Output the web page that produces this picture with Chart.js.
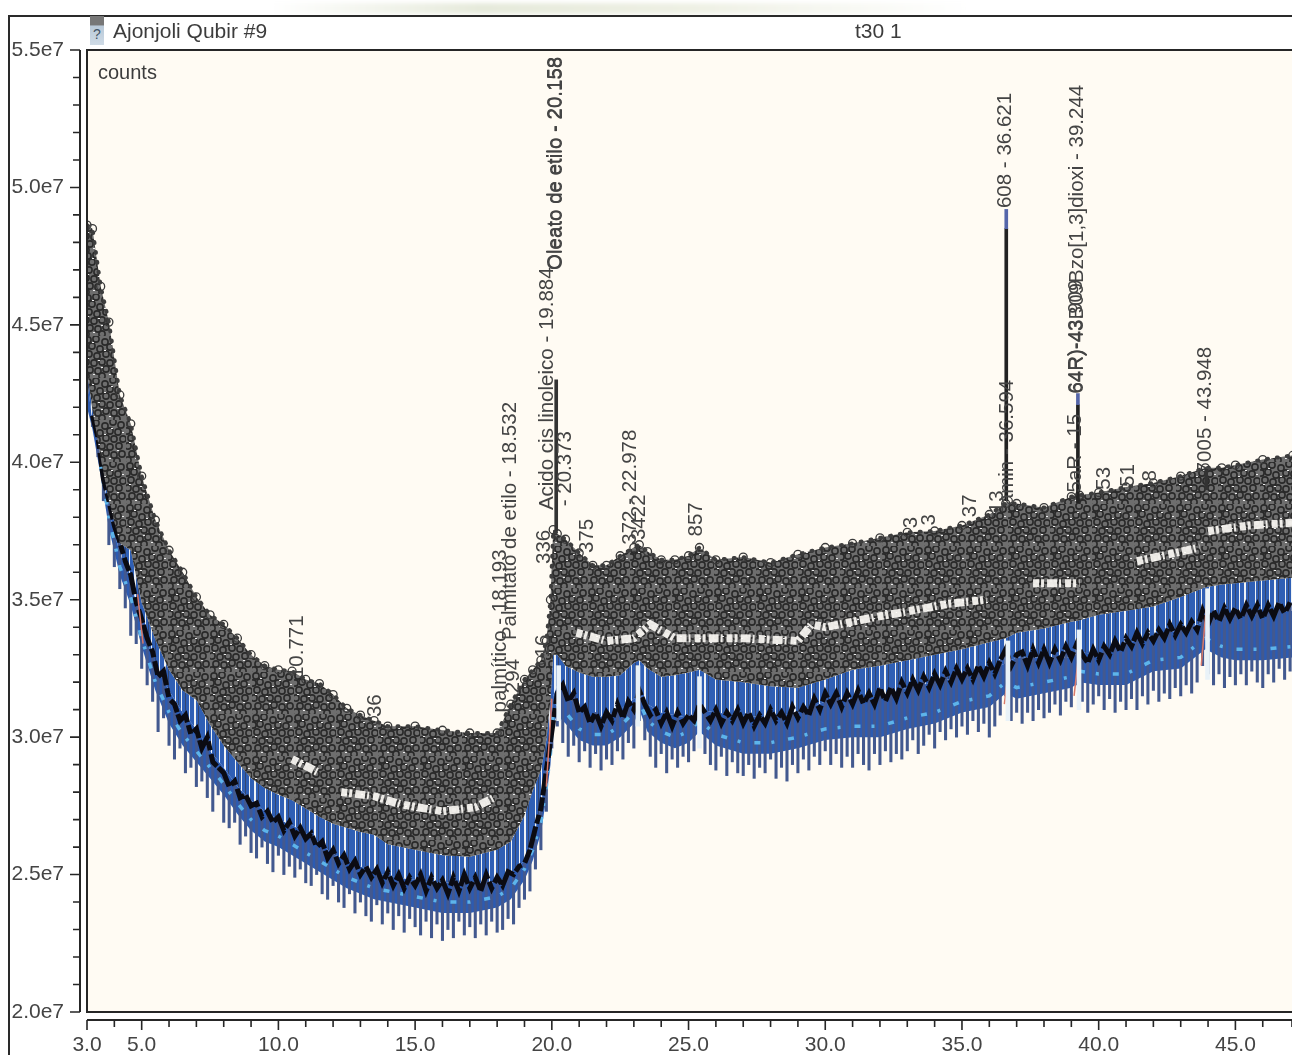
<!DOCTYPE html>
<html>
<head>
<meta charset="utf-8">
<title>Ajonjoli Qubir #9</title>
<script src="https://cdn.jsdelivr.net/npm/chart.js@4/dist/chart.umd.min.js"></script>
<style>
    body { margin: 0; background: #fff; font-family: "Liberation Sans", sans-serif; color: #3c3c3c; }
    #page { position: relative; width: 1292px; height: 1055px; overflow: hidden; }
    #haze { position: absolute; left: 270px; top: 3px; width: 700px; height: 11px;
            background: linear-gradient(90deg, #fff, #e6eadb 30%, #eef0e4 60%, #fff); filter: blur(2px); }
    #frame { position: absolute; left: 8px; top: 15px; width: 1320px; height: 1080px; border: 2px solid #2a2a2a; }
    #chart { position: absolute; left: 0; top: 0; filter: blur(0.6px); }
    .txt { position: absolute; font-size: 21px; white-space: nowrap; filter: blur(0.4px); }
    #icon { position: absolute; left: 90px; top: 16px; width: 14px; height: 29px; font-size: 14px; line-height: 36px;
            text-align: center; color: #456; background: linear-gradient(#777 30%, #b9c9d8 35%, #cfdbe6); }
</style>
</head>
<body>
<div id="page">
    <div id="haze"></div>
    <div id="frame"></div>
    <canvas id="chart" width="1292" height="1055"></canvas>
    <div id="icon">?</div>
    <div class="txt" style="left:113px;top:19px">Ajonjoli Qubir #9</div>
    <div class="txt" style="left:855px;top:19px">t30 1</div>
    <div class="txt" style="left:98px;top:61px;font-size:20px">counts</div>
</div>
<script>
// all y values are in millions of counts
const xLabelled = [3, 5, 10, 15, 20, 25, 30, 35, 40, 45];

const bandRt = [
    3.0,3.2,3.5,3.8,4.2,4.6,5.0,5.5,6,6.5,
    7,7.5,8,8.5,9,9.5,10,10.5,11,11.5,
    12,12.5,13,13.5,14,15,16,17,18,18.5,
    19,19.3,19.6,19.8,19.95,20.05,20.2,20.5,21,21.5,
    22,22.5,23,23.2,23.5,24,24.5,25,25.4,26,
    27,28,29,30,31,32,33,34,35,36,
    36.6,37,38,39,39.3,40,41,42,43,43.9,
    44.5,45,46,47.1];

// top of the grey pile of peak labels
const massTop = [
    48.63,48.5,46.4,45.1,42.45,41.4,39.5,37.9,36.8,36.0,
    35.1,34.45,34.1,33.6,33.0,32.6,32.45,32.4,32.1,31.95,
    31.55,31.05,30.8,30.6,30.4,30.4,30.25,30.15,30.15,31.2,
    32.1,32.45,32.8,33.5,35,37.55,37.4,37.2,36.7,36.25,
    36.25,36.6,36.9,37,36.75,36.45,36.45,36.6,36.9,36.45,
    36.55,36.35,36.65,36.9,37.05,37.25,37.45,37.5,37.7,38.1,
    38.5,38.5,38.35,38.75,38.8,38.9,39.1,39.25,39.5,39.8,
    39.8,39.9,40.1,40.25];

const massBottom = [
    43.35,41.9,40.15,38.6,37.05,36.8,34.9,33.55,32.45,31.7,
    31.35,30.45,29.7,29.1,28.5,28.15,27.9,27.7,27.4,27.1,
    26.85,26.7,26.55,26.45,26.1,25.9,25.7,25.65,25.9,26.2,
    27.15,28.05,28.8,29.9,31.35,33,33,32.6,32.35,32.2,
    32.2,32.25,32.7,32.8,32.5,32.2,32.25,32.35,32.45,32.1,
    32,31.85,31.8,32.1,32.45,32.6,32.8,33,33.2,33.45,
    33.6,33.8,33.95,34.2,34.25,34.45,34.6,34.75,35.1,35.45,
    35.55,35.6,35.7,35.8];

const blueMid = [
    43,41.5,40,38.2,36.7,35.7,34.1,32.6,31.7,30.9,
    30.3,29.5,28.9,28.2,27.7,27.3,27.0,26.8,26.5,26.15,
    25.75,25.5,25.3,25.1,24.95,24.8,24.7,24.7,24.7,25,
    25.5,26.2,27.5,28.6,29.6,31.5,31.9,31.6,31,30.7,
    30.8,31,31.4,31.6,31.2,30.9,30.8,30.7,31,30.9,
    30.8,30.7,30.9,31.3,31.4,31.5,31.8,32,32.2,32.4,
    32.7,32.9,32.9,32.9,33.1,33,33.4,33.7,33.9,34.2,
    34.4,34.4,34.5,34.6];

const blueFloor = [
    42,41.2,39.5,37.6,35.9,34.8,33.3,31.7,30.5,29.7,
    29.1,28.5,27.9,27.2,26.6,26.2,26,25.7,25.4,25.1,
    24.8,24.5,24.3,24.1,24,23.8,23.6,23.6,23.8,24.1,
    24.8,25.5,26.5,27.8,29,30.5,30.8,30.5,29.9,29.7,
    29.7,30,30.5,31,30.2,29.8,29.6,29.8,30.2,29.7,
    29.4,29.4,29.6,29.9,30,30,30.3,30.5,30.9,31.1,
    31.6,31.4,31.6,31.8,32,31.9,31.9,32.4,32.5,33.2,
    32.9,32.8,32.8,32.9];

const cyanTrace = [
    null,null,39.9,38,36.2,35.1,33.6,32.0,30.9,30.1,
    29.5,28.9,28.3,27.6,27,26.6,26.4,26.1,25.8,25.5,
    25.2,24.9,24.7,24.5,24.4,24.2,24,24,24.2,24.5,
    25.2,25.9,26.9,28.2,29.4,30.9,31.2,30.9,30.3,30.1,
    30.1,30.4,30.9,31.3,30.6,30.2,30,30.2,30.6,30.1,
    29.8,29.8,30,30.3,30.4,30.4,30.7,30.9,31.3,31.5,
    32,31.8,32,32.2,32.4,32.3,32.3,32.8,32.9,33.6,
    33.3,33.2,33.2,33.3];

const spikeRt = [
    3.2,3.4,3.6,3.8,4.0,4.2,4.4,4.6,4.8,5.0,
    5.2,5.4,5.6,5.8,6.0,6.2,6.4,6.6,6.8,7.0,
    7.2,7.4,7.6,7.8,8.0,8.2,8.4,8.6,8.8,9.0,
    9.2,9.4,9.6,9.8,10.0,10.2,10.4,10.6,10.8,11.0,
    11.2,11.4,11.6,11.8,12.0,12.2,12.4,12.6,12.8,13.0,
    13.2,13.4,13.6,13.8,14.0,14.2,14.4,14.6,14.8,15.0,
    15.2,15.4,15.6,15.8,16.0,16.2,16.4,16.6,16.8,17.0,
    17.2,17.4,17.6,17.8,18.0,18.2,18.4,18.6,18.8,19.0,
    19.2,19.4,19.6,19.8,20.0,20.2,20.4,20.6,20.8,21.0,
    21.2,21.4,21.6,21.8,22.0,22.2,22.4,22.6,22.8,23.0,
    23.2,23.4,23.6,23.8,24.0,24.2,24.4,24.6,24.8,25.0,
    25.2,25.4,25.6,25.8,26.0,26.2,26.4,26.6,26.8,27.0,
    27.2,27.4,27.6,27.8,28.0,28.2,28.4,28.6,28.8,29.0,
    29.2,29.4,29.6,29.8,30.0,30.2,30.4,30.6,30.8,31.0,
    31.2,31.4,31.6,31.8,32.0,32.2,32.4,32.6,32.8,33.0,
    33.2,33.4,33.6,33.8,34.0,34.2,34.4,34.6,34.8,35.0,
    35.2,35.4,35.6,35.8,36.0,36.2,36.4,36.6,36.8,37.0,
    37.2,37.4,37.6,37.8,38.0,38.2,38.4,38.6,38.8,39.0,
    39.2,39.4,39.6,39.8,40.0,40.2,40.4,40.6,40.8,41.0,
    41.2,41.4,41.6,41.8,42.0,42.2,42.4,42.6,42.8,43.0,
    43.2,43.4,43.6,43.8,44.0,44.2,44.4,44.6,44.8,45.0,
    45.2,45.4,45.6,45.8,46.0,46.2,46.4,46.6,46.8,47.0];

const spikeTip = [
    41.3,40.2,38.6,37.0,36.2,35.4,34.7,33.7,33.4,32.5,
    31.9,31.3,30.2,30.7,29.7,29.2,29.6,28.7,28.9,28.2,
    28.4,27.8,27.3,27.9,26.9,26.7,26.9,26.1,26.4,25.8,
    25.6,26,25.4,25.1,25.7,25,25.3,24.9,25.2,24.7,
    24.6,25,24.3,24.1,24.6,24,23.8,24.3,23.6,24,
    23.5,23.3,23.9,23.2,23.6,23,23.5,22.9,23.4,23.1,
    22.8,23.3,22.7,23.2,22.6,23,22.7,23.3,22.8,23.1,
    22.7,23.2,22.8,23.3,22.9,23,23.4,23.2,23.8,24.1,
    24.4,25.2,25.9,27.3,29.6,30.4,29.8,29.3,29.7,29.1,
    29.5,28.9,29.4,28.8,29.2,29,29.5,29.2,29.8,29.6,
    30.6,29.9,29.3,28.9,29.4,28.7,29.2,28.9,29.3,29.1,
    29.5,30.3,29.4,29,28.8,29.3,28.6,29.1,28.7,28.6,
    29,28.5,28.9,28.7,29.2,28.5,28.9,28.4,29,28.7,
    29.2,28.8,29.3,29,29.5,29,29.4,28.9,29.3,28.9,
    29.4,29,28.8,29.4,29,29.5,29.1,29.4,29.2,29.5,
    29.9,29.4,29.7,30.1,29.6,30.2,29.9,30.3,30,30.4,
    30.1,30.6,30.2,30.5,30,30.4,30.8,31.5,30.6,30.9,
    30.5,30.9,30.6,31,30.7,30.9,31.2,30.8,31.3,31.1,
    31.9,31.3,30.9,31.2,31.5,31,31.4,30.9,31.3,31,
    31.4,31,31.5,31.2,31.7,31.3,31.6,31.4,31.8,31.5,
    31.9,31.6,32,32.6,32.3,31.9,32.3,31.8,32.2,31.9,
    32.3,31.9,32.4,32,31.8,32.3,32,32.5,32.1,32.4];

const blackTrace = [
    41.7,40.9,39.4,38.6,37.7,37.1,36.4,35.9,34.9,34.3,
    33.6,33.1,32.2,32.4,31.4,31.2,30.6,30.8,30.1,30.3,
    29.6,30,29.1,28.9,28.7,28.2,28.4,27.8,27.9,27.5,
    27.6,27.1,27.3,26.9,27.1,26.6,26.9,26.4,26.7,26.3,
    26.5,26,26.2,25.6,25.9,25.4,25.7,25.2,25.5,25,
    25.3,24.9,25.2,24.7,25.1,24.6,25,24.5,24.9,24.6,
    25,24.4,24.9,24.5,24.8,24.3,24.9,24.4,25,24.5,
    24.9,24.4,25,24.5,24.9,24.6,25.1,25,25.3,25.4,
    25.9,26.7,27.4,28.8,30.2,31.6,31.9,31.3,31.6,30.9,
    31.1,30.5,30.9,30.4,30.9,30.6,31.2,30.7,31.3,31,
    31.7,31.2,30.8,31,30.5,30.9,30.4,30.9,30.5,30.8,
    30.6,31.2,30.9,30.6,31,30.5,30.9,30.6,31,30.5,
    30.9,30.4,30.8,30.5,31,30.6,30.9,30.5,31.1,30.7,
    31.1,30.8,31.4,31,31.6,31.2,31.6,31.1,31.6,31.2,
    31.7,31.2,31.6,31.2,31.8,31.3,31.8,31.4,32,31.6,
    32.1,31.7,32.2,31.8,32.3,31.9,32.4,32,32.5,32.1,
    32.5,32.1,32.6,32.2,32.7,32.3,32.8,33.2,32.6,33,
    33.1,32.6,33.2,32.7,33.2,32.7,33.2,32.8,33.3,32.9,
    33.4,33,32.7,33.2,32.8,33.3,33,33.5,33.1,33.6,
    33.3,33.8,33.4,33.8,33.5,33.9,33.6,34.1,33.7,34.1,
    33.8,34.2,33.9,34.6,34.1,34.6,34.2,34.7,34.3,34.7,
    34.3,34.8,34.4,34.8,34.3,34.8,34.4,34.9,34.5,34.9];

// pale scribbles inside the grey pile, null breaks the line
const streakRt = [10.5,11.5,11.6,12.3,13.5,14.5,16,17.2,17.9,18,20.9,22,23,23.6,24.5,25.5,27,29,29.5,30,32,32.6,34.5,35.9,36,37.6,39.3,39.4,41.4,43.7,43.8,44,45.5,47.1];
const streakV = [29.2,28.7,null,28.0,27.85,27.55,27.3,27.45,27.8,null,33.8,33.5,33.6,34.1,33.6,33.6,33.6,33.5,34.1,34.0,34.4,34.5,34.85,35.0,null,35.6,35.6,null,36.4,36.9,null,37.5,37.7,37.8];

// pale gaps in the blue under the big peaks
const gapRt = [20.25, 23.15, 25.4, 36.68, 39.28, 43.98];
const gapLow = [30.6, 30.4, 29.6, 30.6, 31.0, 32.1];
const gapHigh = [32.6, 32.6, 32.2, 33.5, 33.9, 35.4];

const redRt = [4.85,5.05,5.2,19.8,20.0,20.2,36.55,36.75,36.9,39.1,39.3,39.45,43.75,43.95,44.1];
const redV = [35.2,33.4,null,28.2,31.4,null,31.2,32.9,null,31.5,33.3,null,32.6,34.9,null];

const peakRt = [36.62, 36.62, 39.24, 39.24, 20.16, 43.93];
const peakLow = [38.6, 48.5, 38.5, 42.1, 37.5, 39.0];
const peakHigh = [48.5, 49.2, 42.1, 42.5, 43.0, 39.8];
const peakColors = ['#222', '#5566aa', '#222', '#5566aa', '#333', '#333'];

// rotated peak labels: retention time, value at the start of the text, text
const labelRt = [20.18, 20.12, 19.82, 19.72, 18.47, 18.1, 18.6, 20.5, 21.3, 22.88, 23.2, 25.3, 13.53, 10.7, 36.6, 36.65, 39.22, 39.18, 39.15, 43.9, 35.3, 36.3, 33.15, 33.8, 40.2, 41.1, 41.9, 19.7];
const labelV = [47.0, 47.0, 38.26, 36.3, 33.53, 30.9, 31.6, 38.4, 36.7, 37, 37.17, 37.3, 30.73, 32.15, 49.25, 38.44, 42.5, 42.5, 38.9, 39.6, 38.0, 38.15, 37.6, 37.7, 39.0, 39.1, 39.3, 32.9];
const labelText = [
    'Oleato de etilo - 20.158', 'Oleato de etilo - 20.158', 'Acido cis linoleico - 19.884', '336',
    'Palmitato de etilo - 18.532', 'palmítico - 18.193', '294', '- 20.373', '375', '372 - 22.978', '3422', '857',
    '36', '10.771', '608 - 36.621', 'amin - 36.594', '64R)-43B09Bzo[1,3]dioxi - 39.244', '64R)-43.909',
    '5aR - 15', '7005 - 43.948', '37', '13', '3', '3', '53', '51', '8', '16'];

const pts = (xs, ys) => xs.map((x, i) => ({ x: x, y: ys[i] }));
const bars = (xs, lows, highs) => xs.map((x, i) => ({ x: x, y: [lows[i], highs[i]] }));

// texture for the pile of overlapping labels
function ringPattern() {
    const tile = document.createElement('canvas');
    tile.width = 42;
    tile.height = 42;
    const c = tile.getContext('2d');
    c.fillStyle = '#6e6e6e';
    c.fillRect(0, 0, 42, 42);
    const rings = [[4,4],[12,3],[21,6],[29,2],[37,5],[1,11],[8,10],[16,13],[26,11],[34,12],
                   [5,18],[13,20],[22,18],[30,19],[39,19],[2,26],[10,27],[18,26],[26,27],[35,26],
                   [6,34],[14,35],[22,33],[30,35],[38,34],[2,40],[18,40],[33,41]];
    c.strokeStyle = '#2a2a2a';
    c.lineWidth = 1.6;
    rings.forEach(r => { c.beginPath(); c.arc(r[0], r[1], 3.1, 0, 7); c.stroke(); });
    c.fillStyle = '#eeeeee';
    [[8,6],[20,14],[3,22],[14,24],[27,8],[33,30],[9,38],[25,38],[38,12],[17,31]].forEach(r => c.fillRect(r[0], r[1], 2, 1));
    return c.createPattern(tile, 'repeat');
}

// blue with pale vertical slits, right under the pile
function slitPattern() {
    const tile = document.createElement('canvas');
    tile.width = 30;
    tile.height = 8;
    const c = tile.getContext('2d');
    c.fillStyle = '#2f5fb5';
    c.fillRect(0, 0, 30, 8);
    c.fillStyle = '#eef2f6';
    [[1,1],[9,1],[14,2],[25,1]].forEach(s => c.fillRect(s[0], 0, s[1], 8));
    c.fillStyle = '#33466f';
    [[5,1],[18,1],[28,1]].forEach(s => c.fillRect(s[0], 0, s[1], 8));
    return c.createPattern(tile, 'repeat');
}

const chromFrame = {
    id: 'chromFrame',
    beforeDatasetsDraw(chart) {
        const a = chart.chartArea, c = chart.ctx;
        c.save();
        c.fillStyle = '#fffbf3';
        c.fillRect(a.left, a.top, a.right - a.left, a.bottom - a.top);
        c.restore();
    },
    afterDatasetsDraw(chart) {
        const a = chart.chartArea, c = chart.ctx, sx = chart.scales.x, sy = chart.scales.y;
        c.save();
        // rotated labels
        c.fillStyle = '#444';
        c.font = '20.5px "Liberation Sans"';
        c.textBaseline = 'middle';
        labelText.forEach((t, i) => {
            c.save();
            c.translate(sx.getPixelForValue(labelRt[i]), sy.getPixelForValue(labelV[i]));
            c.rotate(-Math.PI / 2);
            c.fillText(t, 0, 0);
            c.restore();
        });
        // plot box plus the detached axes
        c.strokeStyle = '#262626';
        c.lineWidth = 2;
        c.beginPath();
        c.moveTo(a.right, a.top); c.lineTo(a.left, a.top); c.lineTo(a.left, a.bottom); c.lineTo(a.right, a.bottom);
        c.moveTo(80, a.top); c.lineTo(80, a.bottom);
        c.moveTo(a.left, 1020); c.lineTo(a.right, 1020);
        c.stroke();
        c.lineWidth = 1.6;
        c.beginPath();
        sy.ticks.forEach(t => {
            const p = sy.getPixelForValue(t.value);
            c.moveTo(80, p); c.lineTo(t.value % 5 === 0 ? 70 : 73, p);
        });
        sx.ticks.forEach(t => {
            const p = sx.getPixelForValue(t.value);
            c.moveTo(p, 1020); c.lineTo(p, xLabelled.includes(t.value) ? 1030 : 1027);
        });
        c.stroke();
        c.restore();
    }
};

const noPoints = { pointRadius: 0, pointHoverRadius: 0 };

new Chart(document.getElementById('chart'), {
    type: 'bar',
    data: {
        datasets: [
            { type: 'line', data: pts(bandRt, blueFloor), borderWidth: 0, fill: false, order: 9, ...noPoints },
            { type: 'line', data: pts(bandRt, blueMid), borderWidth: 0, fill: { target: 0 }, backgroundColor: '#2c5bb2', order: 9, ...noPoints },
            { type: 'line', data: pts(bandRt, massBottom), borderWidth: 0, fill: { target: 1 }, backgroundColor: slitPattern(), order: 8, ...noPoints },
            { type: 'line', data: pts(bandRt, massTop), borderColor: '#3e3e3e', borderWidth: 4, borderDash: [1, 9], borderCapStyle: 'round',
              fill: { target: 2 }, backgroundColor: ringPattern(), order: 3,
              pointRadius: 4, pointBackgroundColor: 'rgba(0,0,0,0)', pointBorderColor: '#3a3a3a', pointBorderWidth: 1.3 },
            { type: 'bar', data: bars(spikeRt, spikeTip, blackTrace), backgroundColor: '#43598f', barThickness: 2.4, grouped: false, order: 7 },
            { type: 'line', data: pts(bandRt, cyanTrace), borderColor: '#5db4ea', borderWidth: 3.5, borderDash: [6, 11, 3, 14], spanGaps: false, fill: false, order: 6, ...noPoints },
            { type: 'line', data: pts(spikeRt, blackTrace), borderColor: '#0b0b12', borderWidth: 5, borderDash: [22, 3, 9, 4, 14, 2], fill: false, order: 5, ...noPoints },
            { type: 'bar', data: bars(gapRt, gapLow, gapHigh), backgroundColor: '#e9f2f8', barThickness: 4, grouped: false, order: 4 },
            { type: 'line', data: pts(redRt, redV), borderColor: '#d8796a', borderWidth: 1.5, spanGaps: false, fill: false, order: 4, ...noPoints },
            { type: 'line', data: pts(streakRt, streakV), borderColor: 'rgba(255,253,248,0.9)', borderWidth: 8, borderDash: [6, 2, 3, 3, 10, 2, 2, 4], spanGaps: false, fill: false, order: 2, ...noPoints },
            { type: 'line', data: pts(streakRt, streakV), borderColor: '#4a4a4a', borderWidth: 2.5, borderDash: [3, 5, 2, 7], spanGaps: false, fill: false, order: 2, ...noPoints },
            { type: 'bar', data: bars(peakRt, peakLow, peakHigh), backgroundColor: peakColors, barThickness: 3, grouped: false, order: 1 }
        ]
    },
    plugins: [chromFrame],
    options: {
        responsive: false,
        animation: false,
        devicePixelRatio: 1,
        layout: { autoPadding: false, padding: { top: 50, left: 0, right: 0, bottom: 0 } },
        plugins: { legend: { display: false }, tooltip: { enabled: false }, title: { display: false } },
        scales: {
            x: {
                type: 'linear', min: 3, max: 47.07, offset: false,
                grid: { display: false }, border: { display: false },
                afterFit: s => { s.height = 43; s.paddingLeft = 0; s.paddingRight = 0; },
                ticks: {
                    stepSize: 1, autoSkip: false, maxRotation: 0, padding: 13, color: '#444',
                    font: { family: 'Liberation Sans', size: 21 },
                    callback: v => xLabelled.includes(v) ? v.toFixed(1) : ''
                }
            },
            y: {
                min: 20, max: 55,
                grid: { display: false }, border: { display: false },
                afterFit: s => { s.width = 87; s.paddingTop = 0; s.paddingBottom = 0; },
                ticks: {
                    stepSize: 1, autoSkip: false, padding: 15, color: '#444',
                    font: { family: 'Liberation Sans', size: 21 },
                    callback: v => v % 5 === 0 ? (v / 10).toFixed(1) + 'e7' : ''
                }
            }
        }
    }
});
</script>
</body>
</html>
